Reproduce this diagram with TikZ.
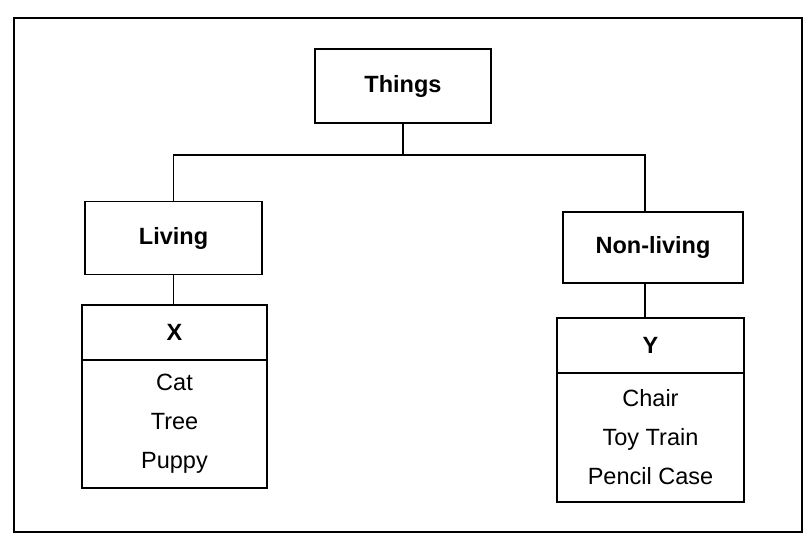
\documentclass[tikz,border=0pt]{standalone}
\usepackage{fontspec}
\setmainfont{Liberation Sans}
\begin{document}
\begin{tikzpicture}[x=1pt,y=-1pt,
  box/.style={draw, line width=1.3pt, rectangle, inner sep=0pt},
  title/.style={font=\fontsize{23.5}{27}\selectfont\bfseries},
  items/.style={font=\fontsize{23.5}{39}\selectfont, align=center},
  conn/.style={line width=1.3pt}]
\useasboundingbox (0,0) rectangle (810,547);
\draw[line width=1.6pt] (14,18) rectangle (802,532);
\node[box, title, minimum width=176pt, minimum height=74pt] (things) at (403,86) {Things};
\node[box, title, minimum width=177pt, minimum height=73pt] (living) at (173.5,238) {Living};
\node[box, title, minimum width=180pt, minimum height=71pt] (nonliving) at (653,247.5) {Non-living};
\node[box, title, minimum width=185pt, minimum height=55pt] (xhead) at (174.5,332.5) {X};
\node[box, items, minimum width=185pt, minimum height=128pt] (xbody) at (174.5,424) {Cat\\Tree\\Puppy};
\node[box, title, minimum width=187pt, minimum height=55pt] (yhead) at (650.5,345.5) {Y};
\node[box, items, minimum width=187pt, minimum height=129pt] (ybody) at (650.5,437.5) {Chair\\Toy Train\\Pencil Case};
\coordinate (bar) at (403,155);
\draw[conn] (things.south) -- (bar);
\draw[conn] (living.north) |- (bar) -| ([xshift=-8pt]nonliving.north);
\draw[conn] (living.south) -- (living.south |- xhead.north);
\draw[conn] ([xshift=-8pt]nonliving.south) -- ([xshift=-8pt]nonliving.south |- yhead.north);
\end{tikzpicture}
\end{document}
